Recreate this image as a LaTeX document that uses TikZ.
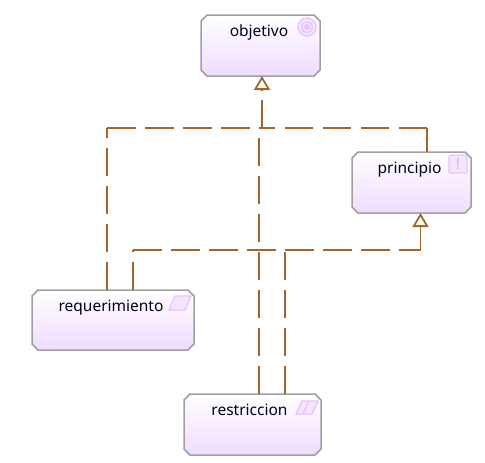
\documentclass[tikz,border=0pt]{standalone}
\usepackage{fontspec}
\setmainfont{Noto Sans}
\usetikzlibrary{arrows.meta,calc}
\definecolor{dep}{HTML}{A2662C}
\definecolor{edgegray}{HTML}{A0A0A0}
\definecolor{lilac}{HTML}{EFDBFF}
\definecolor{ico}{HTML}{E6C4FF}
\newcommand{\bevelbox}[1]{%
  \path[bevelface]
    ([xshift=6pt]#1.north west) -- ([xshift=-6pt]#1.north east) -- ([yshift=-6pt]#1.north east)
    -- ([yshift=6pt]#1.south east) -- ([xshift=-6pt]#1.south east) -- ([xshift=6pt]#1.south west)
    -- ([yshift=6pt]#1.south west) -- ([yshift=-6pt]#1.north west) -- cycle;}
\tikzset{
  x=1pt,y=-1pt,
  element/.style={rectangle,inner sep=0pt,outer sep=0pt,anchor=north west},
  bevelface/.style={draw=edgegray,line width=1.5pt,top color=white,bottom color=lilac},
  label/.style={font=\fontsize{15.5}{17}\selectfont,text=black!90!blue,anchor=base,inner sep=0pt},
  deplink/.style={draw=dep,line width=1.6pt,dash pattern=on 28.5pt off 9.5pt},
  realize/.style={deplink,-{Triangle[open,fill=white,length=14pt,width=16pt,line width=1.8pt]}},
  icon/.style={draw=ico,line width=1.3pt,fill=ico!45},
}
\begin{document}
\begin{tikzpicture}
\useasboundingbox (0,0) rectangle (485,463);
\node[element,minimum width=119pt,minimum height=61pt] (obj) at (201,15) {};
\node[element,minimum width=119pt,minimum height=61pt] (pri) at (352,152) {};
\node[element,minimum width=162pt,minimum height=60pt] (req) at (32,290) {};
\node[element,minimum width=137pt,minimum height=61pt] (res) at (184,394) {};
\bevelbox{obj}
\bevelbox{pri}
\bevelbox{req}
\bevelbox{res}
\node[label] (tobj) at (259,36) {objetivo};
\node[label] (tpri) at (409.5,173) {principio};
\node[label] (treq) at (111,311) {requerimiento};
\node[label] (tres) at (249.5,415) {restriccion};
% icons
\draw[icon] (307,27) circle (9);
\draw[draw=ico,line width=1.3pt] (307,27) circle (5.5);
\draw[draw=ico,fill=ico,line width=1pt] (307,27) circle (2.5);
\draw[icon,rounded corners=1.5pt] (449,155) rectangle (467,173);
\node[font=\bfseries\fontsize{15}{15}\selectfont,text=ico!90!black,inner sep=0pt] (bang) at (458,164) {!};
\draw[icon] (175,296) -- (191,296) -- (185,310) -- (169,310) -- cycle;
\draw[icon] (302,401) -- (318,401) -- (312,414) -- (296,414) -- cycle;
\draw[draw=ico,line width=1.3pt] (309,401) -- (303,414);
% junctions
\coordinate (j1) at (107,128);
\coordinate (j2) at (262,128);
\coordinate (j3) at (427,128);
\coordinate (j4) at (259,128);
\coordinate (j5) at (133,250);
\coordinate (j6) at (285,250);
\coordinate (j7) at (420.5,250);
% to objetivo
\draw[deplink] (j1 |- req.north) -- (j1);
\draw[deplink] (j1) -- (j2);
\draw[deplink] (j3 |- pri.north) -- (j3);
\draw[deplink] (j3) -- (j2);
\draw[deplink] (j4 |- res.north) -- (j4);
\draw[realize] (j2) -- (j2 |- obj.south);
% to principio
\draw[deplink] (j5 |- req.north) -- (j5);
\draw[deplink] (j5) -- (j7);
\draw[deplink] (j6 |- res.north) -- (j6);
\draw[deplink] (j6) -- (j7);
\draw[realize] (j7) -- (j7 |- pri.south);
\end{tikzpicture}
\end{document}
